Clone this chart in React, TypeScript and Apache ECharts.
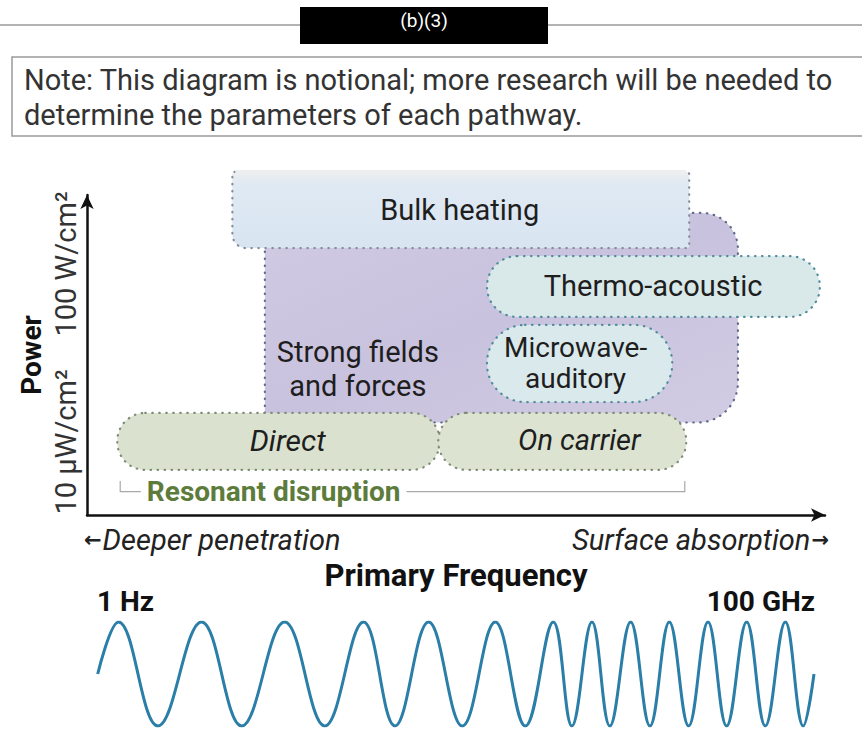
import React, { useEffect, useRef } from 'react';
import * as echarts from 'echarts';

// ---------- data (notional, in axis units 0..100) ----------
const regionNames = ['Strong fields\nand forces', 'Bulk heating', 'Thermo-acoustic', 'Microwave-\nauditory', 'Direct', 'On carrier'];
const regionXStart = [24.1, 19.7, 54.2, 54.2, 4.1, 47.6];
const regionXEnd = [88.2, 81.6, 99.3, 79.3, 47.8, 81.2];
const regionYStart = [28.9, 83.4, 61.9, 35.3, 14.1, 14.1];
const regionYEnd = [94.4, 107.2, 80.9, 59.4, 31.9, 31.9];
const labelX = [36.7, 50.5, 76.7, 66.2, 27.2, 66.7];
const labelY = [45.6, 95.3, 71.6, 47.4, 23.4, 23.4];

const bracketName = 'Resonant disruption';
const bracketX = [4.5, 81.0];
const bracketTickTop = 10.6;
const bracketLineY = 7.3;
const bracketLabel = [7.3, 7.3];

// wave extrema positions along the frequency span (0 = 1 Hz, 100 = 100 GHz)
const wavePeaks = [2.9, 14.5, 26.1, 37.1, 46.2, 55.5, 63.6, 69.0, 74.4, 79.8, 85.2, 90.6, 96.0];
const waveTroughs = [8.4, 20.1, 31.7, 41.5, 50.9, 59.7, 66.2, 71.5, 77.1, 82.5, 87.8, 93.2, 98.5];
const waveStart = 0;
const waveEnd = 100;

const noteLines = [
  'Note: This diagram is notional; more research will be needed to',
  'determine the parameters of each pathway.',
];
const headerLabel = '(b)(3)';
const powerHigh = '100 W/cm²';
const powerLow = '10 μW/cm²';
const freqLow = '1 Hz';
const freqHigh = '100 GHz';
const leftHint = 'Deeper penetration';
const rightHint = 'Surface absorption';

// ---------- styles ----------
const FONT = 'Roboto, "Noto Sans", sans-serif';
const regionFill = [
  new echarts.graphic.LinearGradient(0, 0, 1, 1, [
    { offset: 0, color: '#d0cae3' },
    { offset: 0.5, color: '#c9c2de' },
    { offset: 1, color: '#d1cbe3' },
  ]),
  new echarts.graphic.LinearGradient(0, 0, 0, 1, [
    { offset: 0, color: '#eceef0' },
    { offset: 0.18, color: '#dfe9f3' },
    { offset: 1, color: '#d8e5f1' },
  ]),
  '#d9e9ea',
  '#dae9eb',
  '#dae2cf',
  '#dce3d1',
];
const regionDot = ['#5f6b8a', '#858e9c', '#4f8c9c', '#4f8c9c', '#7f8d77', '#7f8d77'];
const regionRadius = [
  [8, 36, 40, 10],
  [2, 2, 2, 14],
  30,
  38,
  28,
  28,
];
const regionItalic = [false, false, false, false, true, true];
const regionFontSize = [29, 29, 29, 28, 30, 29];
const regionLineHeight = [34, 33, 33, 31, 33, 33];

function buildWave() {
  const pts: number[][] = [[waveStart, 0]];
  const ext: number[][] = [];
  wavePeaks.forEach((x) => ext.push([x, 1]));
  waveTroughs.forEach((x) => ext.push([x, -1]));
  ext.sort((a, b) => a[0] - b[0]);
  ext.forEach((p) => pts.push(p));
  pts.push([waveEnd, 0]);
  return pts;
}

export default function App() {
  const ref = useRef<HTMLDivElement>(null);
  useEffect(() => {
    if (!ref.current) return;
    const chart = echarts.init(ref.current, null, { renderer: 'svg' });
    const regionData = regionNames.map((n, i) => [
      regionXStart[i], regionXEnd[i], regionYStart[i], regionYEnd[i], labelX[i], labelY[i],
    ]);
    const hintRich = {
      t: { font: `italic 29px ${FONT}`, fill: '#222', color: '#222' },
      a: { font: `bold 21px "DejaVu Sans", ${FONT}`, fill: '#222', color: '#222', padding: [0, 1, 0, 1] },
    };
    const option: any = {
      animation: false,
      backgroundColor: '#ffffff',
      grid: [
        { left: 87, right: 37, top: 195, bottom: 221 },
        { left: 97.7, right: 48, top: 622, bottom: 10 },
      ],
      xAxis: [
        {
          type: 'value', min: 0, max: 100, gridIndex: 0,
          axisLine: { show: true, symbol: ['none', 'arrow'], symbolSize: [10, 14], lineStyle: { color: '#111', width: 2.5 } },
          axisTick: { show: false }, axisLabel: { show: false }, splitLine: { show: false },
          name: 'Primary Frequency', nameLocation: 'middle', nameGap: 45,
          nameTextStyle: { fontFamily: FONT, fontSize: 31, fontWeight: 'bold', color: '#111' },
        },
        {
          type: 'value', min: 0, max: 100, gridIndex: 1, show: false,
        },
      ],
      yAxis: [
        {
          type: 'value', min: 0, max: 100, gridIndex: 0,
          axisLine: { show: true, symbol: ['none', 'arrow'], symbolSize: [10, 14], lineStyle: { color: '#111', width: 2.5 } },
          axisTick: { show: false }, axisLabel: { show: false }, splitLine: { show: false },
          name: 'Power', nameLocation: 'middle', nameGap: 42, nameRotate: 90,
          nameTextStyle: { fontFamily: FONT, fontSize: 28, fontWeight: 'bold', color: '#111' },
        },
        {
          type: 'value', min: -1, max: 1, gridIndex: 1, show: false,
        },
      ],
      series: [
        {
          type: 'custom',
          xAxisIndex: 0, yAxisIndex: 0,
          clip: false,
          data: regionData,
          encode: { x: [0, 1], y: [2, 3] },
          renderItem: (params: any, api: any) => {
            const i = params.dataIndex;
            const p0 = api.coord([api.value(0), api.value(3)]);
            const p1 = api.coord([api.value(1), api.value(2)]);
            const lp = api.coord([api.value(4), api.value(5)]);
            const w = p1[0] - p0[0];
            const h = p1[1] - p0[1];
            const children: any[] = [
              {
                type: 'rect',
                shape: { x: p0[0], y: p0[1], width: w, height: h, r: regionRadius[i] },
                style: { fill: regionFill[i], stroke: regionDot[i], lineWidth: 2.2, lineDash: [0.5, 6.5], lineCap: 'round' },
              },
            ];
            if (i === 1) {
              children.push({
                type: 'rect',
                shape: { x: p0[0] + 3, y: p0[1] - 2, width: w - 6, height: 5 },
                style: { fill: '#eceef0' },
              });
            }
            children.push({
              type: 'text',
              x: lp[0], y: lp[1],
              style: {
                text: regionNames[i],
                fill: '#1e1e1e',
                font: `${regionItalic[i] ? 'italic ' : ''}${regionFontSize[i]}px ${FONT}`,
                align: 'center', verticalAlign: 'middle',
                lineHeight: regionLineHeight[i],
              },
            });
            return { type: 'group', children };
          },
          z: 2,
        },
        {
          type: 'custom',
          xAxisIndex: 0, yAxisIndex: 0,
          clip: false,
          data: [[bracketX[0], bracketX[1], bracketTickTop, bracketLineY, bracketLabel[0], bracketLabel[1]]],
          encode: { x: [0, 1], y: [2, 3] },
          renderItem: (params: any, api: any) => {
            const a = api.coord([api.value(0), api.value(2)]);
            const b = api.coord([api.value(0), api.value(3)]);
            const c = api.coord([api.value(1), api.value(3)]);
            const d = api.coord([api.value(1), api.value(2)]);
            const lp = api.coord([api.value(4), api.value(5)]);
            return {
              type: 'group',
              children: [
                { type: 'polyline', shape: { points: [a, b, c, d] }, style: { stroke: '#a9a9a9', lineWidth: 1.2, fill: 'none' } },
                {
                  type: 'text', x: lp[0], y: lp[1],
                  style: {
                    text: bracketName, fill: '#5d7c3b', font: `bold 28px ${FONT}`,
                    align: 'left', verticalAlign: 'middle',
                    backgroundColor: '#ffffff', padding: [0, 6, 0, 6],
                  },
                },
              ],
            };
          },
          z: 3,
        },
        {
          type: 'line',
          xAxisIndex: 1, yAxisIndex: 1,
          data: buildWave(),
          smooth: 0.4,
          symbol: 'none',
          lineStyle: { color: '#2a7ea7', width: 3 },
        },
      ],
      graphic: [
        { type: 'line', shape: { x1: 0, y1: 25, x2: 300, y2: 25 }, style: { stroke: '#9a9a9a', lineWidth: 1.5 } },
        { type: 'line', shape: { x1: 548, y1: 25, x2: 862, y2: 25 }, style: { stroke: '#9a9a9a', lineWidth: 1.5 } },
        { type: 'rect', shape: { x: 300, y: 7, width: 248, height: 37 }, style: { fill: '#000' } },
        { type: 'text', x: 424, y: 20, style: { text: headerLabel, fill: '#fff', font: `19px ${FONT}`, align: 'center', verticalAlign: 'middle' } },
        { type: 'rect', shape: { x: 12, y: 57, width: 860, height: 79 }, style: { fill: 'none', stroke: '#9a9a9a', lineWidth: 1.5 } },
        { type: 'text', x: 24, y: 80, style: { text: noteLines[0], fill: '#333', font: `29px ${FONT}`, align: 'left', verticalAlign: 'middle' } },
        { type: 'text', x: 24, y: 115, style: { text: noteLines[1], fill: '#333', font: `29px ${FONT}`, align: 'left', verticalAlign: 'middle' } },
        { type: 'text', x: 66, y: 264, rotation: Math.PI / 2, style: { text: powerHigh, fill: '#333', font: `29px ${FONT}`, align: 'center', verticalAlign: 'middle' } },
        { type: 'text', x: 66, y: 442, rotation: Math.PI / 2, style: { text: powerLow, fill: '#333', font: `29px ${FONT}`, align: 'center', verticalAlign: 'middle' } },
        { type: 'text', x: 83, y: 540, style: { text: `{a|←}{t|${leftHint}}`, rich: hintRich, align: 'left', verticalAlign: 'middle' } },
        { type: 'text', x: 830, y: 540, style: { text: `{t|${rightHint}}{a|→}`, rich: hintRich, align: 'right', verticalAlign: 'middle' } },
        { type: 'text', x: 97, y: 601, style: { text: freqLow, fill: '#111', font: `bold 28px ${FONT}`, align: 'left', verticalAlign: 'middle' } },
        { type: 'text', x: 815, y: 601, style: { text: freqHigh, fill: '#111', font: `bold 28px ${FONT}`, align: 'right', verticalAlign: 'middle' } },
      ],
    };
    chart.setOption(option);
    return () => chart.dispose();
  }, []);
  return (
    <div
      ref={ref}
      style={{ position: 'fixed', left: 0, top: 0, width: 862, height: 736, background: '#fff' }}
    />
  );
}
